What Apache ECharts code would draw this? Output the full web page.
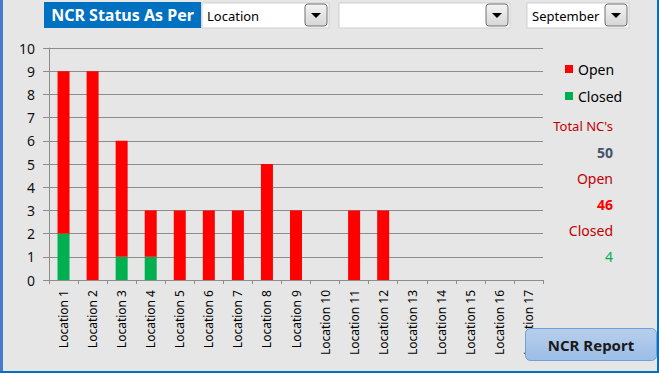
<!DOCTYPE html>
<html><head><meta charset="utf-8">
<script src="https://cdn.jsdelivr.net/npm/echarts@6/dist/echarts.min.js"></script>
<style>html,body{margin:0;padding:0;background:#e6e6e6;overflow:hidden}#c{width:659px;height:373px}</style>
</head><body><div id="c"></div>
<script>
const categories = ['Location 1','Location 2','Location 3','Location 4','Location 5','Location 6','Location 7','Location 8','Location 9','Location 10','Location 11','Location 12','Location 13','Location 14','Location 15','Location 16','Location 17'];
const openValues   = [7, 9, 5, 2, 3, 3, 3, 5, 3, 0, 3, 3, 0, 0, 0, 0, 0];
const closedValues = [2, 0, 1, 1, 0, 0, 0, 0, 0, 0, 0, 0, 0, 0, 0, 0, 0];
const seriesNames = ['Open', 'Closed'];
const yMin = 0, yMax = 10, yInterval = 1;
const headerTitle = 'NCR Status As Per';
const dropdown1Text = 'Location';
const dropdown3Text = 'September';
const buttonText = 'NCR Report';

const sum = a => a.reduce((s, v) => s + v, 0);
const totalOpen = sum(openValues), totalClosed = sum(closedValues), totalAll = totalOpen + totalClosed;

const FONT = '"Noto Sans", "Open Sans", sans-serif';

function dropdown(x, y, w, h, text, z) {
  const els = [
    { type: 'rect', shape: { x: x, y: y, width: w, height: h }, style: { fill: '#ffffff', stroke: '#cfcfcf', lineWidth: 1 }, z: z },
    { type: 'rect', shape: { x: x + w - 24, y: y + 1, width: 22, height: h - 3, r: 3 },
      style: { fill: new echarts.graphic.LinearGradient(0, 0, 0, 1, [{ offset: 0, color: '#f4f4f4' }, { offset: 1, color: '#d6d6d6' }]), stroke: '#707070', lineWidth: 1 }, z: z + 1 },
    { type: 'polygon', shape: { points: [[x + w - 18, y + 10], [x + w - 8, y + 10], [x + w - 13, y + 15]] }, style: { fill: '#000' }, z: z + 2 }
  ];
  if (text) els.push({ type: 'text', x: x + 5, y: y + h / 2, style: { text: text, fill: '#000', font: '13px ' + FONT, textVerticalAlign: 'middle' }, z: z + 2 });
  return els;
}

const chart = echarts.init(document.getElementById('c'), null, { renderer: 'svg' });
const rightX = 613;
chart.setOption({
  backgroundColor: '#e6e6e6',
  animation: false,
  grid: { left: 49, right: 116, top: 48, bottom: 93, containLabel: false },
  legend: {
    orient: 'vertical', left: 565, top: 62, itemWidth: 8, itemHeight: 8, itemGap: 13, icon: 'rect',
    data: seriesNames, padding: 0,
    textStyle: { fontSize: 14, lineHeight: 14, color: '#000', fontFamily: FONT }
  },
  xAxis: {
    type: 'category', data: categories, boundaryGap: true,
    axisLine: { lineStyle: { color: '#8c8c8c' } },
    axisTick: { show: true, length: 4, alignWithLabel: false, lineStyle: { color: '#8c8c8c' } },
    axisLabel: { rotate: 90, interval: 0, margin: 10, fontSize: 12, color: '#000', fontFamily: FONT }
  },
  yAxis: {
    type: 'value', min: yMin, max: yMax, interval: yInterval,
    axisLine: { show: true, lineStyle: { color: '#8c8c8c' } },
    axisTick: { show: true, length: 6, lineStyle: { color: '#8c8c8c' } },
    axisLabel: { margin: 14, fontSize: 14, color: '#111', fontFamily: FONT },
    splitLine: { lineStyle: { color: '#8c8c8c', width: 1 } }
  },
  series: [
    { name: seriesNames[1], type: 'bar', stack: 'a', data: closedValues, barWidth: 12, itemStyle: { color: '#00b050' } },
    { name: seriesNames[0], type: 'bar', stack: 'a', data: openValues, barWidth: 12, itemStyle: { color: '#ff0000' } }
  ],
  graphic: [
    { type: 'rect', shape: { x: 0, y: 0, width: 3, height: 373 }, style: { fill: '#4a78cf' }, z: 50 },
    { type: 'rect', shape: { x: 0, y: 371, width: 659, height: 2 }, style: { fill: '#0070c0' }, z: 50 },
    { type: 'rect', shape: { x: 657, y: 0, width: 2, height: 373 }, style: { fill: '#0070c0' }, z: 50 },
    { type: 'rect', shape: { x: 44, y: 2, width: 157, height: 26 }, style: { fill: '#0070c0' }, z: 50 },
    { type: 'text', x: 122.5, y: 15, style: { text: headerTitle, fill: '#fff', font: 'bold 16px ' + FONT, textAlign: 'center', textVerticalAlign: 'middle' }, z: 51 },
    ...dropdown(202, 3, 127, 25, dropdown1Text, 50),
    ...dropdown(339, 3, 171, 25, '', 50),
    ...dropdown(527, 3, 102, 25, dropdown3Text, 50),
    { type: 'text', x: rightX, y: 126, style: { text: "Total NC's", fill: '#c00000', font: '13px ' + FONT, textAlign: 'right', textVerticalAlign: 'middle' }, z: 50 },
    { type: 'text', x: rightX, y: 152, style: { text: String(totalAll), fill: '#44546a', font: 'bold 14px ' + FONT, textAlign: 'right', textVerticalAlign: 'middle' }, z: 50 },
    { type: 'text', x: rightX, y: 178, style: { text: 'Open', fill: '#c00000', font: '14px ' + FONT, textAlign: 'right', textVerticalAlign: 'middle' }, z: 50 },
    { type: 'text', x: rightX, y: 204, style: { text: String(totalOpen), fill: '#ff0000', font: 'bold 14px ' + FONT, textAlign: 'right', textVerticalAlign: 'middle' }, z: 50 },
    { type: 'text', x: rightX, y: 230, style: { text: 'Closed', fill: '#c00000', font: '14px ' + FONT, textAlign: 'right', textVerticalAlign: 'middle' }, z: 50 },
    { type: 'text', x: rightX, y: 256, style: { text: String(totalClosed), fill: '#00b050', font: '14px ' + FONT, textAlign: 'right', textVerticalAlign: 'middle' }, z: 50 },
    { type: 'rect', shape: { x: 525.5, y: 328.5, width: 131, height: 32, r: 5 },
      style: { fill: new echarts.graphic.LinearGradient(0, 0, 0, 1, [{ offset: 0, color: '#b7cfec' }, { offset: 1, color: '#9cbde6' }]), stroke: '#6f9fd8', lineWidth: 1 }, z: 60 },
    { type: 'text', x: 591, y: 345, style: { text: buttonText, fill: '#1a1a1a', font: 'bold 15px ' + FONT, textAlign: 'center', textVerticalAlign: 'middle' }, z: 61 }
  ]
});
</script></body></html>
